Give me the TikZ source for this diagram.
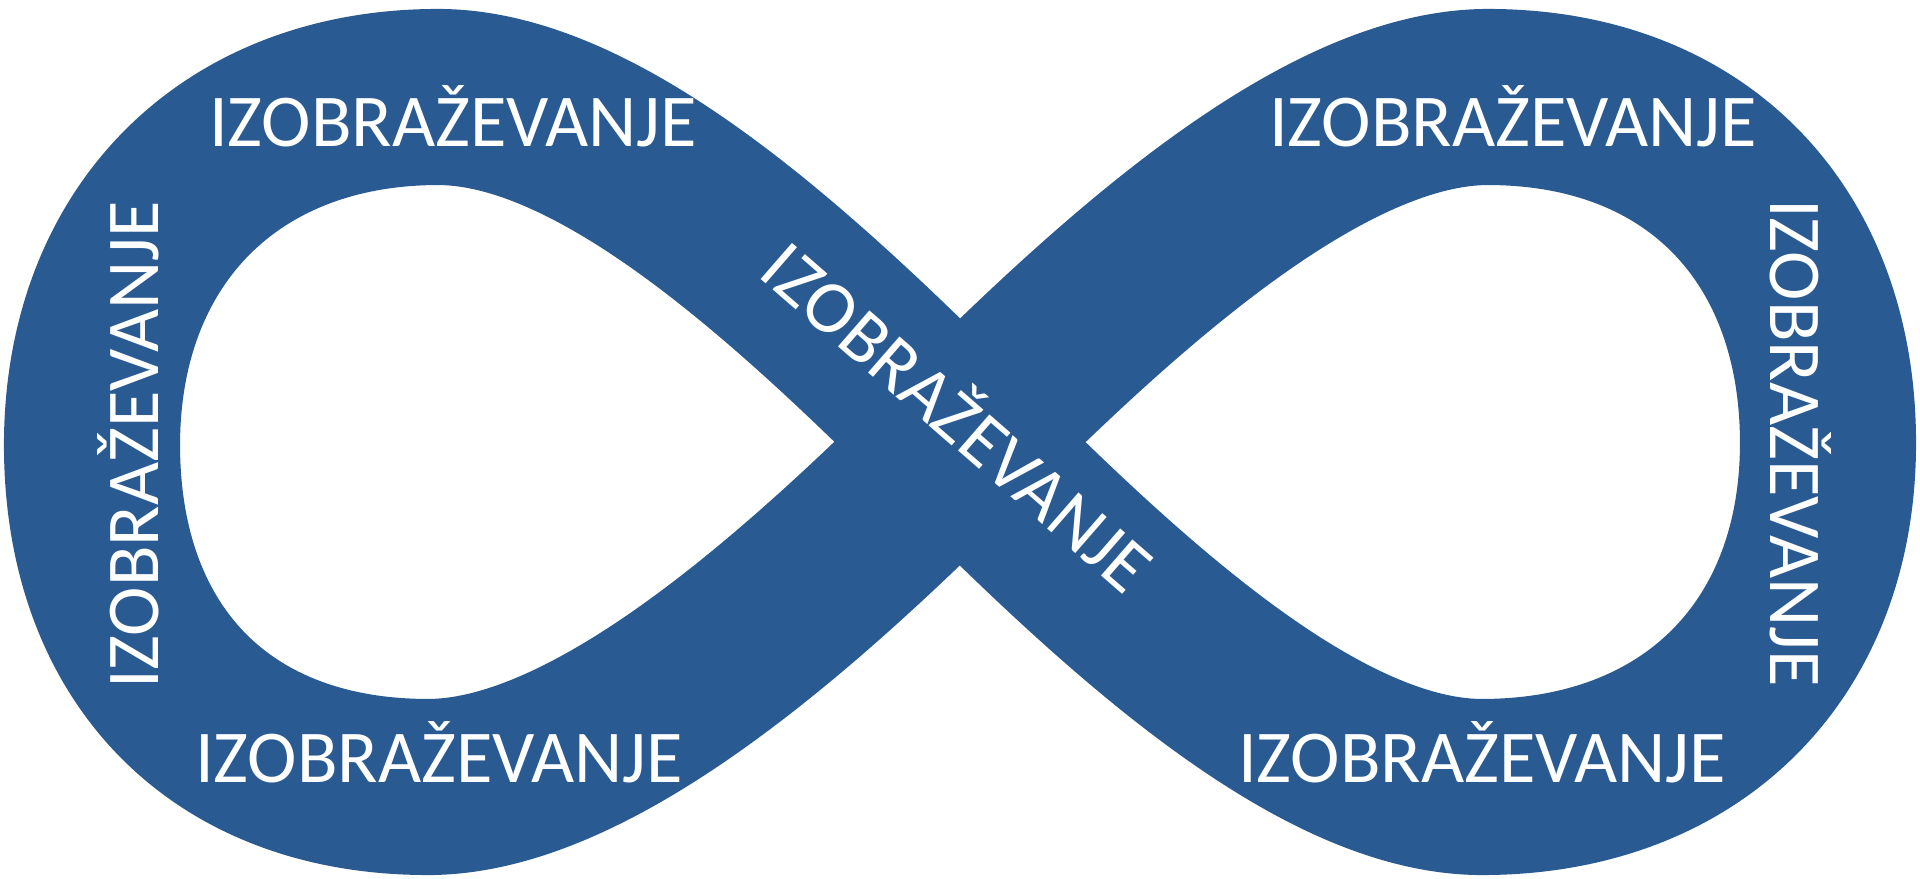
\documentclass[tikz,border=0pt]{standalone}
\usepackage{fontspec}
\setmainfont{Carlito}
\usepackage{xcolor}
\usepackage{tikz}
\definecolor{modra}{HTML}{2A5A92}

\begin{document}
\begin{tikzpicture}[x=0.01cm, y=-0.01cm,
      every node/.style={text=white, inner sep=0pt, anchor=base, font=\fontsize{21.2pt}{25pt}\selectfont},
      trak/.style={draw=modra, line width=1.76cm, line join=round}
    ]
    \useasboundingbox (0,0) rectangle (1920,879);
    % tocke traku
    \coordinate (c)  at (960,442);
    \coordinate (lt) at (438,97);
    \coordinate (ll) at (92,445);
    \coordinate (lb) at (428,787);
    \coordinate (dt) at (1488,97);
    \coordinate (dd) at (1828,443);
    \coordinate (db) at (1482,787);
    % neskoncnost
    \draw[trak] (c) .. controls +(-160,-160) and +(165,0) .. (lt)
      .. controls +(-208,0) and +(0,-209) .. (ll)
      .. controls +(0,209) and +(-208,0) .. (lb)
      .. controls +(165,0) and +(-160,160) .. (c)
      .. controls +(160,-160) and +(-165,0) .. (dt)
      .. controls +(208,0) and +(0,-209) .. (dd)
      .. controls +(0,209) and +(208,0) .. (db)
      .. controls +(-165,0) and +(160,160) .. (c) -- cycle;
    % napisi
    \node (zgl) at (453,147) {IZOBRAŽEVANJE};
    \node (zgd) at (1513,147) {IZOBRAŽEVANJE};
    \node (spl) at (439,782) {IZOBRAŽEVANJE};
    \node (spd) at (1482,782) {IZOBRAŽEVANJE};
    \node[rotate=90] (lev) at (159,445) {IZOBRAŽEVANJE};
    \node[rotate=-90] (des) at (1770,443) {IZOBRAŽEVANJE};
    \node[rotate=-41] (sre) at (941,436) {IZOBRAŽEVANJE};
  \end{tikzpicture}
\end{document}
